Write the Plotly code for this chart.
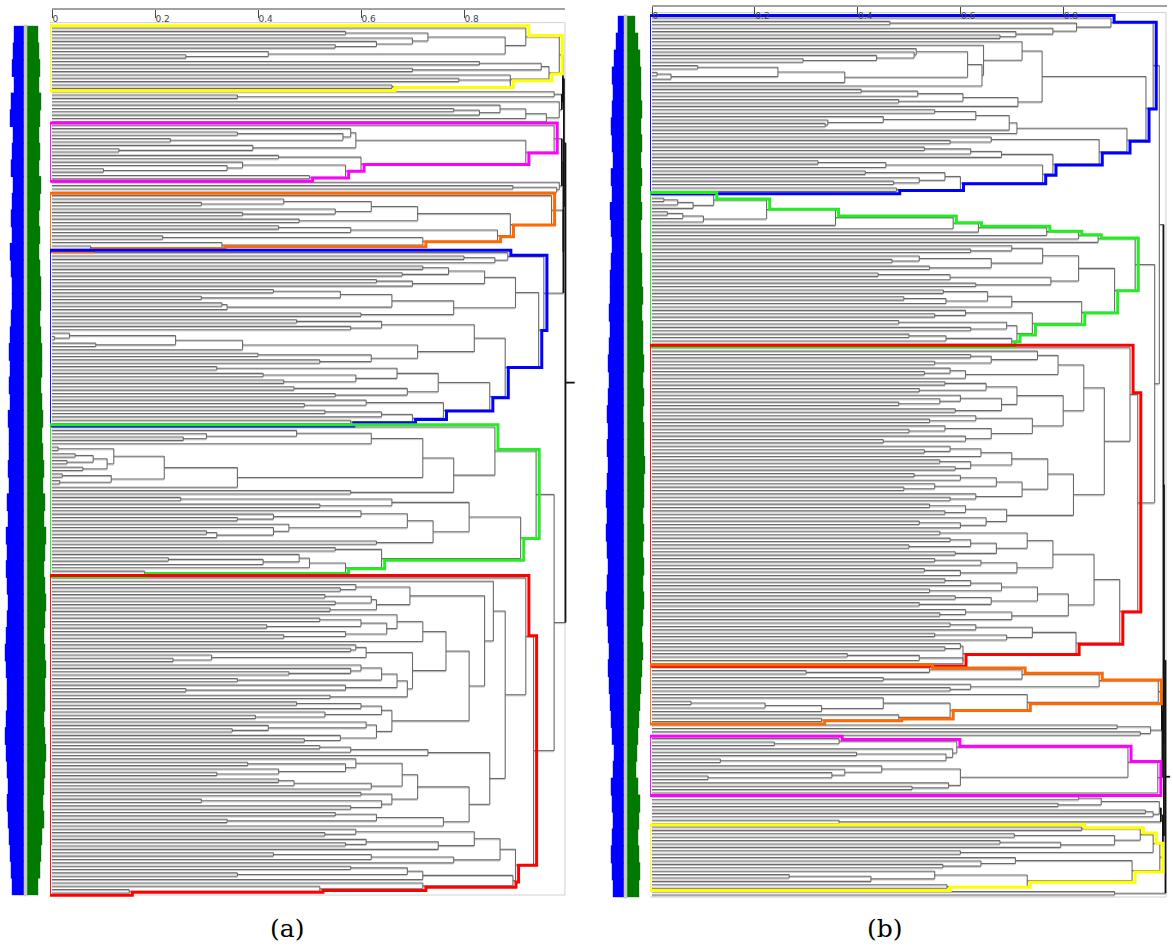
import plotly.graph_objects as go

# ---------------- DATA ----------------
# Dendrogram encoded as cophenetic heights between adjacent leaves (top -> bottom), per cluster block.
# Panel (a)
a_yellow = [0.92, 0.57, 0.73, 0.70, 0.63, 0.55, 0.88, 0.42, 0.26, 0.985, 0.83, 0.95, 0.70, 0.965, 0.89, 0.79, 0.89, 0.66]
a_free1 = [0.975, 0.36, 0.99, 0.985, 0.87, 0.78, 0.83, 0.92, 0.96]
a_magenta = [0.975, 0.58, 0.36, 0.565, 0.23, 0.59, 0.39, 0.13, 0.92, 0.44, 0.60, 0.37, 0.34, 0.10, 0.57, 0.50]
a_free2 = [0.985, 0.895, 0.98]
a_orange = [0.97, 0.45, 0.29, 0.62, 0.55, 0.37, 0.71, 0.48, 0.89, 0.44, 0.58, 0.865, 0.215, 0.72, 0.33, 0.075]
a_blue = [0.885, 0.80, 0.86, 0.955,
          0.72, 0.77, 0.68, 0.84, 0.63, 0.70, 0.90, 0.43, 0.56, 0.29, 0.66, 0.33, 0.34, 0.78, 0.60, 0.945,
          0.475, 0.64, 0.58, 0.82, 0.034, 0.005, 0.24, 0.085, 0.37, 0.71, 0.40, 0.62, 0.52, 0.88, 0.32,
          0.67, 0.41, 0.59, 0.45, 0.75, 0.47, 0.69, 0.55, 0.85, 0.61, 0.49, 0.76, 0.53, 0.64, 0.70, 0.58]
a_green = [0.86, 0.475, 0.30, 0.255, 0.62, 0.72,
           0.012, 0.12, 0.045, 0.08, 0.029, 0.107, 0.06, 0.218, 0.02, 0.115, 0.015, 0.36, 0.78, 0.58,
           0.94,
           0.25, 0.66, 0.52, 0.81, 0.60, 0.43, 0.36, 0.69, 0.46, 0.43,
           0.30, 0.32, 0.74, 0.63, 0.91, 0.55, 0.64, 0.48, 0.226, 0.41,
           0.50, 0.57, 0.18]
a_red = [0.92, 0.857, 0.59, 0.56, 0.695, 0.53, 0.62, 0.55, 0.63, 0.54,
         0.84, 0.67, 0.52, 0.60, 0.417, 0.65, 0.57, 0.45, 0.72, 0.765,
         0.59, 0.58, 0.61, 0.31, 0.235, 0.70, 0.60, 0.58, 0.46, 0.64,
         0.36, 0.67, 0.57, 0.26, 0.69, 0.54, 0.81, 0.475, 0.60, 0.64,
         0.53, 0.395, 0.66, 0.61, 0.42, 0.35, 0.63, 0.56, 0.49, 0.88,
         0.52, 0.58, 0.73, 0.85, 0.59, 0.38, 0.57, 0.44, 0.32, 0.68,
         0.44, 0.47, 0.62, 0.71, 0.60, 0.66, 0.29, 0.64, 0.58, 0.81,
         0.55, 0.63, 0.34, 0.76, 0.935, 0.59, 0.53, 0.82, 0.61, 0.57,
         0.75, 0.87, 0.43, 0.62, 0.78, 0.90, 0.58, 0.69, 0.36, 0.72,
         0.895, 0.72, 0.52, 0.15]
a_joins = [0.992, 0.994, 0.990, 0.993, 0.993, 0.997, 0.975]

# Panel (b)
b_blue = [0.893, 0.463, 0.826, 0.78, 0.708, 0.677, 0.975, 0.72, 0.645, 0.514,
          0.51, 0.437, 0.294, 0.614, 0.089, 0.245, 0.01, 0.037, 0.375, 0.642,
          0.759, 0.407, 0.517, 0.605, 0.48, 0.712, 0.961, 0.55, 0.63, 0.45,
          0.342, 0.337, 0.695, 0.71, 0.924, 0.66, 0.58, 0.87, 0.53, 0.62,
          0.68, 0.78, 0.323, 0.455, 0.76, 0.415, 0.57, 0.52, 0.47, 0.60, 0.476]
b_green = [0.12, 0.023, 0.05, 0.08, 0.223, 0.03, 0.06, 0.10, 0.357, 0.586, 0.635, 0.768, 0.83, 0.868,
           0.94,
           0.70, 0.62, 0.76, 0.52, 0.467, 0.66, 0.54, 0.83, 0.44, 0.58,
           0.776, 0.63, 0.90, 0.567, 0.653, 0.49, 0.572, 0.70, 0.836, 0.61,
           0.55, 0.74, 0.48, 0.69, 0.62, 0.71, 0.50, 0.572, 0.70]
b_red = [0.93, 0.75, 0.62, 0.66, 0.55, 0.79, 0.58, 0.53, 0.61, 0.84,
         0.57, 0.65, 0.52, 0.71, 0.60, 0.56, 0.48, 0.68, 0.59, 0.80,
         0.63, 0.54, 0.74, 0.57, 0.50, 0.66, 0.61, 0.45, 0.88, 0.58,
         0.53, 0.64, 0.70, 0.56, 0.62, 0.59, 0.77, 0.51, 0.60, 0.67,
         0.55, 0.49, 0.72, 0.63, 0.58, 0.82, 0.54, 0.61, 0.57, 0.69,
         0.65, 0.52, 0.60, 0.945, 0.56, 0.73, 0.58, 0.62, 0.50, 0.67,
         0.59, 0.78, 0.55, 0.64, 0.71, 0.53, 0.60, 0.86, 0.57, 0.62,
         0.68, 0.54, 0.75, 0.59, 0.66, 0.52, 0.81, 0.61, 0.56, 0.70,
         0.91, 0.58, 0.63, 0.74, 0.55, 0.69, 0.825, 0.60, 0.57, 0.605,
         0.38, 0.52, 0.605]
b_orange = [0.54, 0.30, 0.72, 0.45, 0.87, 0.62, 0.58, 0.985, 0.73, 0.45, 0.076, 0.22, 0.33, 0.58, 0.48, 0.33]
b_free1 = [0.905, 0.97, 0.95]
b_magenta = [0.364, 0.238, 0.593, 0.585, 0.398, 0.572, 0.133, 0.926, 0.447, 0.375, 0.35, 0.109, 0.60, 0.577, 0.506, 0.984]
b_free2 = [0.83, 0.874, 0.79, 0.987, 0.96, 0.975, 0.99, 0.364]
b_yellow = [0.836, 0.95, 0.705, 0.90, 0.677, 0.795, 0.975, 0.60, 0.988, 0.707, 0.64, 0.566, 0.934, 0.55, 0.267, 0.426, 0.73, 0.574]
b_free3 = [0.90]
b_joins = [0.987, 0.978, 0.995, 0.992, 0.993, 0.996, 0.994, 0.999]

# Side bars (per block of leaves, top -> bottom), pixel-like units from the centre strip
a_bar_blue = [10, 11, 12, 10, 13, 14, 11, 12, 13, 11, 12, 13, 12, 14, 13, 12, 12, 13, 14, 15,
              14, 15, 14, 16, 15, 15, 16, 15, 17, 16, 18, 17, 18, 17, 16, 17, 18, 19, 18, 17,
              17, 18, 19, 18, 17, 16, 17, 16, 15, 14, 13, 12]
a_bar_green = [11, 12, 13, 12, 14, 13, 12, 13, 12, 14, 13, 12, 13, 12, 13, 14, 14, 13, 14, 15,
               15, 14, 15, 16, 15, 16, 17, 16, 18, 17, 19, 18, 17, 18, 19, 18, 17, 18, 19, 18,
               18, 17, 18, 19, 18, 17, 16, 17, 15, 14, 13, 11]
b_bar_blue = [6, 8, 10, 12, 11, 12, 13, 12, 11, 13, 12, 14, 13, 12, 13, 14, 14, 15, 14, 15,
              16, 15, 16, 17, 16, 17, 16, 17, 18, 17, 18, 17, 16, 17, 18, 17, 16, 15, 16, 15,
              14, 13, 12, 10, 11, 13, 12, 11, 12, 13, 12, 11]
b_bar_green = [8, 11, 13, 14, 14, 15, 14, 15, 14, 15, 14, 15, 14, 14, 15, 15, 16, 15, 16, 16,
               17, 16, 17, 16, 17, 17, 18, 17, 17, 16, 17, 16, 17, 16, 17, 16, 15, 16, 15, 14,
               13, 12, 11, 10, 9, 11, 13, 12, 11, 12, 13, 12]

tick_vals = [0, 0.2, 0.4, 0.6, 0.8]
tick_text = ["0", "0.2", "0.4", "0.6", "0.8"]

a_blocks = [("yellow", a_yellow), (None, a_free1), ("magenta", a_magenta), (None, a_free2),
            ("orange", a_orange), ("blue", a_blue), ("green", a_green), ("red", a_red)]
b_blocks = [("blue", b_blue), ("green", b_green), ("red", b_red), ("orange", b_orange), (None, b_free1),
            ("magenta", b_magenta), (None, b_free2), ("yellow", b_yellow), (None, b_free3)]

OUTLINE_COLORS = {"yellow": "#ffff00", "magenta": "#ff00ff", "orange": "#ff6a00",
                  "blue": "#0000ff", "green": "#22ee22", "red": "#ff0000"}

W, H = 1173, 951


def assemble(blocks, joins):
    gaps, spans, start = [], [], 0
    for i, (name, g) in enumerate(blocks):
        n = len(g) + 1
        spans.append((name, start, start + n - 1))
        gaps += list(g)
        if i < len(joins):
            gaps.append(joins[i])
        start += n
    return gaps, spans, start


def tree(gaps, lo, hi, segs):
    if lo == hi:
        return 0.0, float(lo)
    m = lo + max(range(hi - lo), key=lambda k: gaps[lo + k])
    h = gaps[m]
    h1, y1 = tree(gaps, lo, m, segs)
    h2, y2 = tree(gaps, m + 1, hi, segs)
    segs.append((h1, y1, h, y1))
    segs.append((h2, y2, h, y2))
    segs.append((h, y1, h, y2))
    return h, (y1 + y2) / 2


def outline(gaps, lo, hi, padx=0.006, pady=0.7, xl=-0.005):
    segs = []
    tree(gaps, lo, hi, segs)
    xs, ys = [xl], [lo - pady]
    ns = 2 * (hi - lo) + 1
    for k in range(ns):
        yc = lo + k * 0.5
        ext = 0.0
        for (x0, y0, x1, y1) in segs:
            if y0 == y1:
                if abs(y0 - yc) < 0.26:
                    ext = max(ext, x1)
            elif min(y0, y1) - 1e-9 <= yc <= max(y0, y1) + 1e-9:
                ext = max(ext, x0)
        top = lo - pady if k == 0 else yc - 0.25
        bot = hi + pady if k == ns - 1 else yc + 0.25
        xs += [ext + padx, ext + padx]
        ys += [top, bot]
    xs += [xl, xl]
    ys += [hi + pady, lo - pady]
    return xs, ys


fig = go.Figure()


def panel(blocks, joins, xa, ya, xbar, bar_blue, bar_green, stem_end, frame_right):
    gaps, spans, n = assemble(blocks, joins)
    segs = []
    rh, ry = tree(gaps, 0, n - 1, segs)
    gx, gy, kx, ky, sx, sy = [], [], [], [], [], []
    for (x0, y0, x1, y1) in segs:
        if x0 == x1 and x0 >= 0.99:
            kx += [x0, x1, None]; ky += [y0, y1, None]
        else:
            gx += [x0, x1, None]; gy += [y0, y1, None]
            if y0 == y1:
                sx += [x0, x1, None]; sy += [y0 + 0.33, y1 + 0.33, None]
    kx += [rh, stem_end, None]; ky += [ry, ry, None]
    # frame
    fig.add_trace(go.Scatter(x=[-0.004, frame_right, frame_right, -0.004],
                             y=[-1.6, -1.6, n - 0.4, n - 0.4], mode="lines",
                             line=dict(color="#d0d0d0", width=1), xaxis=xa, yaxis=ya, hoverinfo="skip"))
    fig.add_trace(go.Scatter(x=sx, y=sy, mode="lines", line=dict(color="#c4c4c4", width=1),
                             xaxis=xa, yaxis=ya, hoverinfo="skip"))
    fig.add_trace(go.Scatter(x=gx, y=gy, mode="lines", line=dict(color="#6a6a6a", width=1.1),
                             xaxis=xa, yaxis=ya, hoverinfo="skip"))
    fig.add_trace(go.Scatter(x=kx, y=ky, mode="lines", line=dict(color="#111111", width=1.8),
                             xaxis=xa, yaxis=ya, hoverinfo="skip"))
    for name, lo, hi in spans:
        if name is None:
            continue
        ox, oy = outline(gaps, lo, hi)
        fig.add_trace(go.Scatter(x=ox, y=oy, mode="lines",
                                 line=dict(color=OUTLINE_COLORS[name], width=3),
                                 xaxis=xa, yaxis=ya, hoverinfo="skip"))
    # side bars
    nb = len(bar_blue)
    step = n / nb
    centers = [(k + 0.5) * step - 0.5 for k in range(nb)]
    widths = [step * 1.06] * nb
    fig.add_trace(go.Bar(orientation="h", y=[(n - 1) / 2], x=[3.4], base=[-1.7], width=[n + 1],
                         marker=dict(color="#c8c8c8", line=dict(width=0)), xaxis=xbar, yaxis=ya,
                         hoverinfo="skip"))
    fig.add_trace(go.Bar(orientation="h", y=centers, x=[-v for v in bar_blue], base=-1.7, width=widths,
                         marker=dict(color="#0000ff", line=dict(width=0)), xaxis=xbar, yaxis=ya,
                         hoverinfo="skip"))
    fig.add_trace(go.Bar(orientation="h", y=centers, x=bar_green, base=1.7, width=widths,
                         marker=dict(color="#007a00", line=dict(width=0)), xaxis=xbar, yaxis=ya,
                         hoverinfo="skip"))
    return n


na = panel(a_blocks, a_joins, "x", "y", "x3", a_bar_blue, a_bar_green, 1.015, 0.996)
nb_ = panel(b_blocks, b_joins, "x2", "y2", "x4", b_bar_blue, b_bar_green, 1.008, 1.0)

# pixel layout of the two panels
a_top, a_bot = 28, 893
b_top, b_bot = 18, 895
sa = (a_bot - a_top) / (na - 1)
sb = (b_bot - b_top) / (nb_ - 1)
ya_range = [(H - a_top) / sa, -a_top / sa]
yb_range = [(H - b_top) / sb, -b_top / sb]

axis_common = dict(showgrid=False, zeroline=False, showline=False)
top_axis = dict(side="top", anchor="free", ticks="inside", ticklen=8, tickcolor="#444", tickwidth=1,
                tickvals=tick_vals, ticktext=tick_text, ticklabelposition="inside right",
                tickfont=dict(size=9, color="#444", family="DejaVu Sans"), **axis_common)

fig.update_layout(
    width=W, height=H, margin=dict(l=0, r=0, t=0, b=0),
    paper_bgcolor="white", plot_bgcolor="white", showlegend=False, barmode="overlay",
    xaxis=dict(domain=[48 / W, 580 / W], range=[-4 / 515, 528 / 515], position=1 - 9 / H, **top_axis),
    xaxis2=dict(domain=[648 / W, 1.0], range=[-4 / 514, 521 / 514], position=1 - 6 / H, **top_axis),
    xaxis3=dict(domain=[0, 50 / W], range=[-25.5, 24.5], visible=False, anchor="y", **axis_common),
    xaxis4=dict(domain=[600 / W, 650 / W], range=[-25.5, 24.5], visible=False, anchor="y2", **axis_common),
    yaxis=dict(domain=[0, 1], range=ya_range, visible=False, anchor="x3", **axis_common),
    yaxis2=dict(domain=[0, 1], range=yb_range, visible=False, anchor="x4", **axis_common),
    shapes=[
        dict(type="line", xref="x", yref="paper", x0=0, x1=0.996, y0=1 - 9 / H, y1=1 - 9 / H,
             line=dict(color="#444", width=1)),
        dict(type="line", xref="x2", yref="paper", x0=0, x1=1.002, y0=1 - 6 / H, y1=1 - 6 / H,
             line=dict(color="#444", width=1)),
    ],
    annotations=[
        dict(text="(a)", x=287 / W, y=1 - 928 / H, xref="paper", yref="paper", showarrow=False,
             font=dict(size=25, family="DejaVu Serif", color="black"), xanchor="center", yanchor="middle"),
        dict(text="(b)", x=885 / W, y=1 - 928 / H, xref="paper", yref="paper", showarrow=False,
             font=dict(size=25, family="DejaVu Serif", color="black"), xanchor="center", yanchor="middle"),
    ],
)

fig.write_html("out.html")
